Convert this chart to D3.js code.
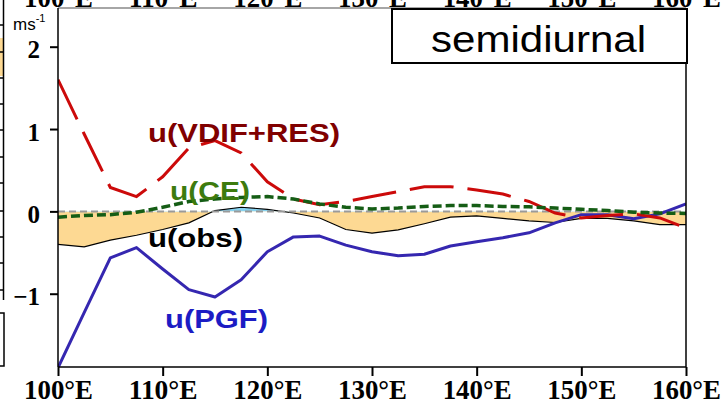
<!DOCTYPE html>
<html>
<head>
<meta charset="utf-8">
<script src="https://cdn.jsdelivr.net/npm/d3@7"></script>
<style>
  html, body { margin: 0; padding: 0; background: #fff; }
  svg { display: block; }
</style>
</head>
<body>
<svg id="chart" width="724" height="406"></svg>
<script>
// ---- data ----
const lons = [100, 102.5, 105, 107.5, 110, 112.5, 115, 117.5, 120, 122.5, 125, 127.5, 130,
              132.5, 135, 137.5, 140, 142.5, 145, 147.5, 150, 152.5, 155, 157.5, 160];
const uObs  = [-0.40, -0.43, -0.35, -0.29, -0.22, -0.14, 0.01, 0.05, 0.025, -0.02, -0.08, -0.22, -0.265,
               -0.225, -0.15, -0.07, -0.055, -0.085, -0.115, -0.135, -0.085, -0.085, -0.115, -0.16, -0.16];
const uPGF  = [-1.90, -1.23, -0.565, -0.44, -0.70, -0.95, -1.04, -0.83, -0.49, -0.31, -0.30, -0.41, -0.49,
               -0.54, -0.52, -0.42, -0.37, -0.32, -0.26, -0.14, -0.04, -0.04, -0.09, -0.03, 0.09];
const uVDIF = [1.60, 0.94, 0.29, 0.18, 0.42, 0.77, 0.86, 0.71, 0.36, 0.15, 0.08, 0.12, 0.18,
               0.24, 0.30, 0.30, 0.26, 0.21, 0.12, -0.02, -0.08, -0.05, -0.03, -0.08, -0.20];
const uCE   = [-0.07, -0.05, -0.04, -0.01, 0.05, 0.12, 0.15, 0.17, 0.18, 0.15, 0.09, 0.05, 0.03,
               0.04, 0.06, 0.07, 0.07, 0.06, 0.055, 0.04, 0.025, 0.01, -0.01, -0.02, -0.025];
const xTicks = [100, 110, 120, 130, 140, 150, 160];
const yTicks = [-1, 0, 1, 2];
const panelTitle = "semidiurnal";
const unitLabel = "ms";
const unitExp = "-1";

// ---- layout ----
const svg = d3.select("#chart");
const L = 58, R = 686, T = 8, B = 367;
const x = d3.scaleLinear().domain([100, 160]).range([L, R]);
const y = d3.scaleLinear().domain([-1.89, 2.47]).range([B, T]);

const defs = svg.append("defs");
defs.append("clipPath").attr("id", "plotclip")
  .append("rect").attr("x", L).attr("y", T).attr("width", R - L).attr("height", B - T);
defs.append("clipPath").attr("id", "posclip")
  .append("rect").attr("x", L).attr("y", T).attr("width", R - L).attr("height", y(0) - T);
defs.append("clipPath").attr("id", "negclip")
  .append("rect").attr("x", L).attr("y", y(0)).attr("width", R - L).attr("height", B - y(0));

// ---- remnants of neighbouring panel on the left ----
const lp = svg.append("g");
lp.append("rect").attr("x", 0).attr("y", 38).attr("width", 3).attr("height", 38).attr("fill", "#fdd993");
lp.append("line").attr("x1", 3.5).attr("x2", 3.5).attr("y1", 0).attr("y2", 300).attr("stroke", "#000").attr("stroke-width", 1.5);
[25, 52, 78, 104, 130, 157, 183, 211, 237, 263, 290].forEach(v => {
  lp.append("line").attr("x1", 0).attr("x2", 3.5).attr("y1", v).attr("y2", v).attr("stroke", "#000").attr("stroke-width", 1.5);
});
lp.append("rect").attr("x", -10).attr("y", 313).attr("width", 14).attr("height", 53)
  .attr("fill", "#fff").attr("stroke", "#000").attr("stroke-width", 1.5);

const idx = d3.range(lons.length);
const plot = svg.append("g").attr("clip-path", "url(#plotclip)");

// ---- fills for u(obs) ----
const area = d3.area().x(i => x(lons[i])).y0(y(0)).y1(i => y(uObs[i]));
plot.append("g").attr("clip-path", "url(#negclip)")
  .append("path").attr("d", area(idx)).attr("fill", "#fdd993");
plot.append("g").attr("clip-path", "url(#posclip)")
  .append("path").attr("d", area(idx)).attr("fill", "#86d2f0");

// obs line
const lineOf = arr => d3.line().x(i => x(lons[i])).y(i => y(arr[i]))(idx);
plot.append("path").attr("d", lineOf(uObs)).attr("fill", "none").attr("stroke", "#000").attr("stroke-width", 1.2);

// zero reference line
plot.append("line").attr("x1", L).attr("x2", R).attr("y1", y(0)).attr("y2", y(0))
  .attr("stroke", "#9a9a9a").attr("stroke-width", 2).attr("stroke-dasharray", "7,4");

// PGF
plot.append("path").attr("d", lineOf(uPGF)).attr("fill", "none")
  .attr("stroke", "#3527b0").attr("stroke-width", 3).attr("stroke-linejoin", "round");
// VDIF+RES
plot.append("path").attr("d", lineOf(uVDIF)).attr("fill", "none")
  .attr("stroke", "#cc0a0a").attr("stroke-width", 3).attr("stroke-dasharray", "44,14");
// CE
plot.append("path").attr("d", lineOf(uCE)).attr("fill", "none")
  .attr("stroke", "#155d15").attr("stroke-width", 3.5).attr("stroke-dasharray", "9,4");

// ---- frame ----
svg.append("line").attr("x1", L).attr("x2", R).attr("y1", T).attr("y2", T).attr("stroke", "#888").attr("stroke-width", 1.5);
svg.append("line").attr("x1", L).attr("x2", L).attr("y1", T).attr("y2", B).attr("stroke", "#000").attr("stroke-width", 1.5);
svg.append("line").attr("x1", R).attr("x2", R).attr("y1", T).attr("y2", B).attr("stroke", "#000").attr("stroke-width", 1.5);
svg.append("line").attr("x1", L).attr("x2", R).attr("y1", B).attr("y2", B).attr("stroke", "#000").attr("stroke-width", 1.5);

// ---- axes ----
const tickFont = "'Liberation Serif', 'DejaVu Serif', serif";
const xb = svg.append("g").attr("transform", `translate(0,${B})`)
  .call(d3.axisBottom(x).tickValues(xTicks).tickFormat(d => d + "°E").tickSize(9));
xb.select(".domain").remove();
xb.selectAll(".tick line").attr("stroke", "#000").attr("stroke-width", 2);
xb.selectAll(".tick text").attr("dy", null).attr("y", 32)
  .attr("font-family", tickFont).attr("font-weight", "bold").attr("font-size", 28)
  .attr("fill", "#000").attr("textLength", 69).attr("lengthAdjust", "spacingAndGlyphs");

const xt = svg.append("g").attr("transform", `translate(0,${T})`)
  .call(d3.axisTop(x).tickValues(xTicks).tickFormat(d => d + "°E").tickSize(0));
xt.select(".domain").remove();
xt.selectAll(".tick text").attr("dy", null).attr("y", -1)
  .attr("font-family", tickFont).attr("font-weight", "bold").attr("font-size", 28)
  .attr("fill", "#000").attr("textLength", 69).attr("lengthAdjust", "spacingAndGlyphs");

const ya = svg.append("g").attr("transform", `translate(${L},0)`)
  .call(d3.axisLeft(y).tickValues(yTicks).tickFormat(d => d < 0 ? "\u2212" + Math.abs(d) : d).tickSize(8).tickPadding(10));
ya.select(".domain").remove();
ya.selectAll(".tick line").attr("stroke", "#000").attr("stroke-width", 2);
ya.selectAll(".tick text").attr("dy", "0.45em")
  .attr("font-family", tickFont).attr("font-weight", "bold").attr("font-size", 25).attr("fill", "#000");

// unit label
const ut = svg.append("text").attr("x", 13).attr("y", 30)
  .attr("font-family", "'Liberation Sans', Arial, sans-serif").attr("font-size", 17).attr("fill", "#000");
ut.append("tspan").text(unitLabel);
ut.append("tspan").attr("font-size", 11).attr("dy", -8).text(unitExp);

// title box
svg.append("rect").attr("x", 392).attr("y", 9).attr("width", 295).attr("height", 54)
  .attr("fill", "#fff").attr("stroke", "#000").attr("stroke-width", 2);
svg.append("text").attr("x", 431).attr("y", 52)
  .attr("font-family", "'Liberation Sans', Arial, sans-serif").attr("font-size", 37).attr("fill", "#000")
  .attr("textLength", 215).attr("lengthAdjust", "spacingAndGlyphs").text(panelTitle);

// series labels
const labels = [
  { t: "u(VDIF+RES)", x: 148, y: 141.5, w: 192, c: "#800000" },
  { t: "u(CE)",       x: 170, y: 199.5, w: 80,  c: "#3d7b0e" },
  { t: "u(obs)",      x: 148, y: 247,   w: 95,  c: "#000000" },
  { t: "u(PGF)",      x: 165, y: 328,   w: 103, c: "#1c1cc4" }
];
svg.selectAll("text.slab").data(labels).enter().append("text").attr("class", "slab")
  .attr("x", d => d.x).attr("y", d => d.y)
  .attr("font-family", "'Liberation Sans', Arial, sans-serif").attr("font-weight", "bold")
  .attr("font-size", 26).attr("fill", d => d.c)
  .attr("textLength", d => d.w).attr("lengthAdjust", "spacingAndGlyphs")
  .text(d => d.t);
</script>
</body>
</html>
